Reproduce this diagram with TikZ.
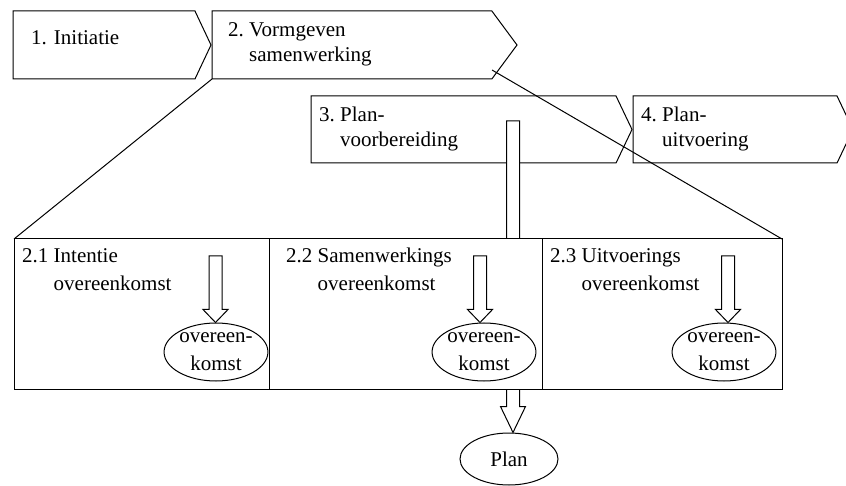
\documentclass[tikz,border=0pt]{standalone}
\usepackage{fontspec}
\setmainfont{Liberation Serif}
\usetikzlibrary{calc,positioning,shapes.geometric,shapes.symbols}
\tikzset{
	fase/.style={
		signal, signal to=east, signal from=nowhere,
		draw=black, line width=1pt,
		inner sep=0pt, outer sep=0pt,
		minimum height=68pt},
	tekst/.style={inner sep=0pt, anchor=base west,
		font=\fontsize{21}{25}\selectfont},
	vaktekst/.style={tekst, font=\fontsize{21}{28}\selectfont},
	vak/.style={
		rectangle, draw=black, fill=white, line width=1pt,
		inner sep=0pt, outer sep=0pt,
		minimum height=150pt},
	resultaat/.style={
		ellipse, draw=black, fill=white, line width=1pt,
		inner sep=0pt, align=center,
		minimum height=58pt,
		font=\fontsize{21}{28}\selectfont},
	lijn/.style={draw, line width=1pt},
	blokpijl/.style={
		draw=black, fill=white, line width=1pt,
		to path={let \p1=(\tikztostart), \p2=(\tikztotarget) in
			(\x1-6.5pt,\y1) -- (\x1+6.5pt,\y1) -- (\x1+6.5pt,\y2+#1)
			-- (\x1+12.5pt,\y2+#1) -- (\x1,\y2) -- (\x1-12.5pt,\y2+#1)
			-- (\x1-6.5pt,\y2+#1) -- cycle}},
}
\newcommand{\stap}[3]{\begin{tabular}[t]{@{}l@{\ }l@{}}#1 & #2\\ & #3\end{tabular}}

\begin{document}
\begin{tikzpicture}[x=1pt,y=-1pt]
	\useasboundingbox (0,0) rectangle (846,486);

	% fasen
	\node[fase, minimum width=198pt, signal pointer angle=129.5, anchor=west] (c1) at (13,45) {};
	\node[fase, minimum width=305pt, signal pointer angle=107, right=1pt of c1] (c2) {};
	\node[fase, minimum height=67pt, minimum width=321pt, signal pointer angle=129, anchor=west] (c3) at (311,129.5) {};
	\node[fase, minimum height=67pt, minimum width=220pt, signal pointer angle=129, right=1pt of c3] (c4) {};

	\node[tekst] (t1) at (31,45) {1. Initiatie};
	\node[tekst] (t2) at (228,37) {\stap{2.}{Vormgeven}{samenwerking}};
	\node[tekst] (t3) at (319,122) {\stap{3.}{Plan-}{voorbereiding}};
	\node[tekst] (t4) at (641,122) {\stap{4.}{Plan-}{uitvoering}};

	% plan
	\node[resultaat, minimum width=98pt, minimum height=52pt] (plan) at (509,459) {Plan};
	\coordinate (p4) at (513,121);
	\draw[blokpijl=26pt] (p4) to (plan.north);

	% deelfasen
	\node[vak, minimum width=255pt, anchor=north west] (v1) at (14,239) {};
	\node[vak, minimum width=273pt, right=0pt of v1] (v2) {};
	\node[vak, minimum width=240pt, right=0pt of v2] (v3) {};

	\node[vaktekst] (s1) at (22,263) {\stap{2.1}{Intentie}{overeenkomst}};
	\node[vaktekst] (s2) at (286,263) {\stap{2.2}{Samenwerkings}{overeenkomst}};
	\node[vaktekst] (s3) at (550,263) {\stap{2.3}{Uitvoerings}{overeenkomst}};

	\node[resultaat, minimum width=90pt] (e1) at (216,352) {overeen-\\komst};
	\node[resultaat, minimum width=99pt] (e2) at (484,352) {overeen-\\komst};
	\node[resultaat, minimum width=99pt] (e3) at (724,352) {overeen-\\komst};

	\coordinate (p1) at (215.5,256);
	\coordinate (p2) at (480,256);
	\coordinate (p3) at (728,256);
	\draw[blokpijl=13pt] (p1) to (e1.north);
	\draw[blokpijl=13pt] (p2) to (e2.north);
	\draw[blokpijl=13pt] (p3) to (e3.north);

	% inzoomen
	\coordinate (h) at (492,70);
	\draw[lijn] (c2.west |- c2.south) -- (v1.north west);
	\draw[lijn] (h) -- (v3.north east);
\end{tikzpicture}
\end{document}
